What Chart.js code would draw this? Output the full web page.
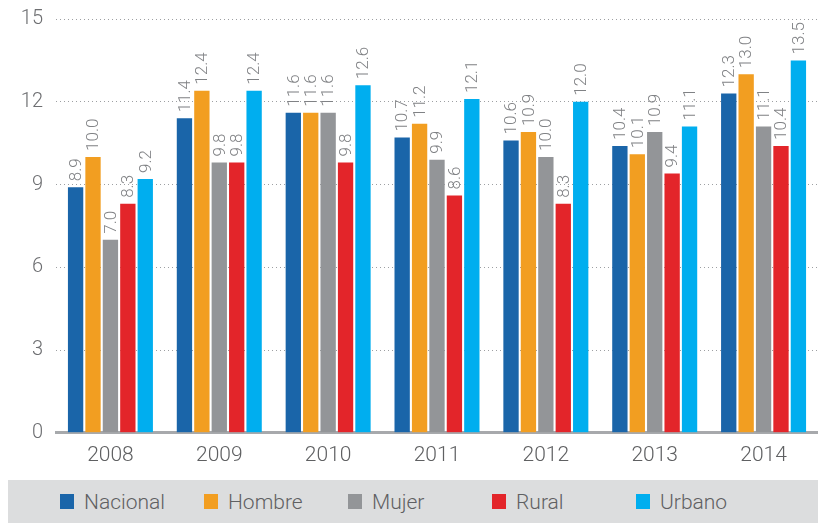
<!DOCTYPE html>
<html>
<head>
<meta charset="utf-8">
<script src="https://cdn.jsdelivr.net/npm/chart.js@4/dist/chart.umd.min.js"></script>
<style>
  body { margin: 0; background: #fff; font-family: Roboto, sans-serif; }
  #wrap { position: relative; width: 818px; height: 470px; }
  #legend {
    position: absolute; left: 8px; top: 480px; width: 810px; height: 43px;
    background: #dcddde; display: flex; align-items: center;
  }
  .item { display: flex; align-items: center; width: 144px; color: #5f6062; font-size: 21px; font-weight: 300; }
  .item:first-child { margin-left: 52px; }
  .box { width: 14px; height: 15px; margin-right: 10px; }
</style>
</head>
<body>
<div id="wrap"><canvas id="chart"></canvas></div>
<div id="legend"></div>
<script>
// categories and series
const years = ['2008', '2009', '2010', '2011', '2012', '2013', '2014'];
const seriesNames = ['Nacional', 'Hombre', 'Mujer', 'Rural', 'Urbano'];
const colours = ['#1a65a9', '#f29e21', '#939598', '#e3252a', '#00aeef'];

const nacional = [8.9, 11.4, 11.6, 10.7, 10.6, 10.4, 12.3];
const hombre   = [10.0, 12.4, 11.6, 11.2, 10.9, 10.1, 13.0];
const mujer    = [7.0, 9.8, 11.6, 9.9, 10.0, 10.9, 11.1];
const rural    = [8.3, 9.8, 9.8, 8.6, 8.3, 9.4, 10.4];
const urbano   = [9.2, 12.4, 12.6, 12.1, 12.0, 11.1, 13.5];

const yTicks = [0, 3, 6, 9, 12, 15];

const seriesData = [nacional, hombre, mujer, rural, urbano];

// vertical value labels above each bar
const barLabels = {
  id: 'barLabels',
  afterDatasetsDraw(chart) {
    const ctx = chart.ctx;
    ctx.save();
    ctx.font = '300 17px Roboto, sans-serif';
    ctx.fillStyle = '#808285';
    ctx.textAlign = 'left';
    ctx.textBaseline = 'middle';
    chart.data.datasets.forEach((ds, i) => {
      chart.getDatasetMeta(i).data.forEach((bar, j) => {
        ctx.save();
        ctx.translate(bar.x, bar.y - 6);
        ctx.rotate(-Math.PI / 2);
        ctx.fillText(ds.data[j].toFixed(1), 0, 1);
        ctx.restore();
      });
    });
    ctx.restore();
  }
};

new Chart(document.getElementById('chart'), {
  type: 'bar',
  data: {
    labels: years,
    datasets: seriesNames.map((name, i) => ({
      label: name,
      data: seriesData[i],
      backgroundColor: colours[i],
      borderWidth: 0,
      barPercentage: 0.88,
      categoryPercentage: 0.8
    }))
  },
  options: {
    responsive: true,
    maintainAspectRatio: false,
    animation: false,
    layout: { padding: { top: 19, right: 0, left: 0, bottom: 0 } },
    plugins: { legend: { display: false }, tooltip: { enabled: false } },
    scales: {
      x: {
        grid: { display: false },
        border: { color: '#a7a9ac', width: 3 },
        ticks: { color: '#5f6062', font: { size: 21, family: 'Roboto', weight: 300 }, padding: 2 }
      },
      y: {
        min: 0,
        max: 15,
        afterBuildTicks: axis => { axis.ticks = yTicks.map(v => ({ value: v })); },
        afterFit: axis => { axis.width = 56; axis.paddingTop = 0; axis.paddingBottom = 0; },
        grid: {
          color: ctx => ctx.tick.value === 0 ? 'rgba(0,0,0,0)' : '#9d9fa2',
          lineWidth: 1,
          drawTicks: false
        },
        border: { display: false, dash: [1, 3] },
        ticks: { color: '#6d6e71', font: { size: 20, family: 'Roboto', weight: 300 }, padding: 13 }
      }
    }
  },
  plugins: [barLabels]
});

const legend = document.getElementById('legend');
seriesNames.forEach((name, i) => {
  const el = document.createElement('div');
  el.className = 'item';
  el.innerHTML = `<span class="box" style="background:${colours[i]}"></span>${name}`;
  legend.appendChild(el);
});
</script>
</body>
</html>
